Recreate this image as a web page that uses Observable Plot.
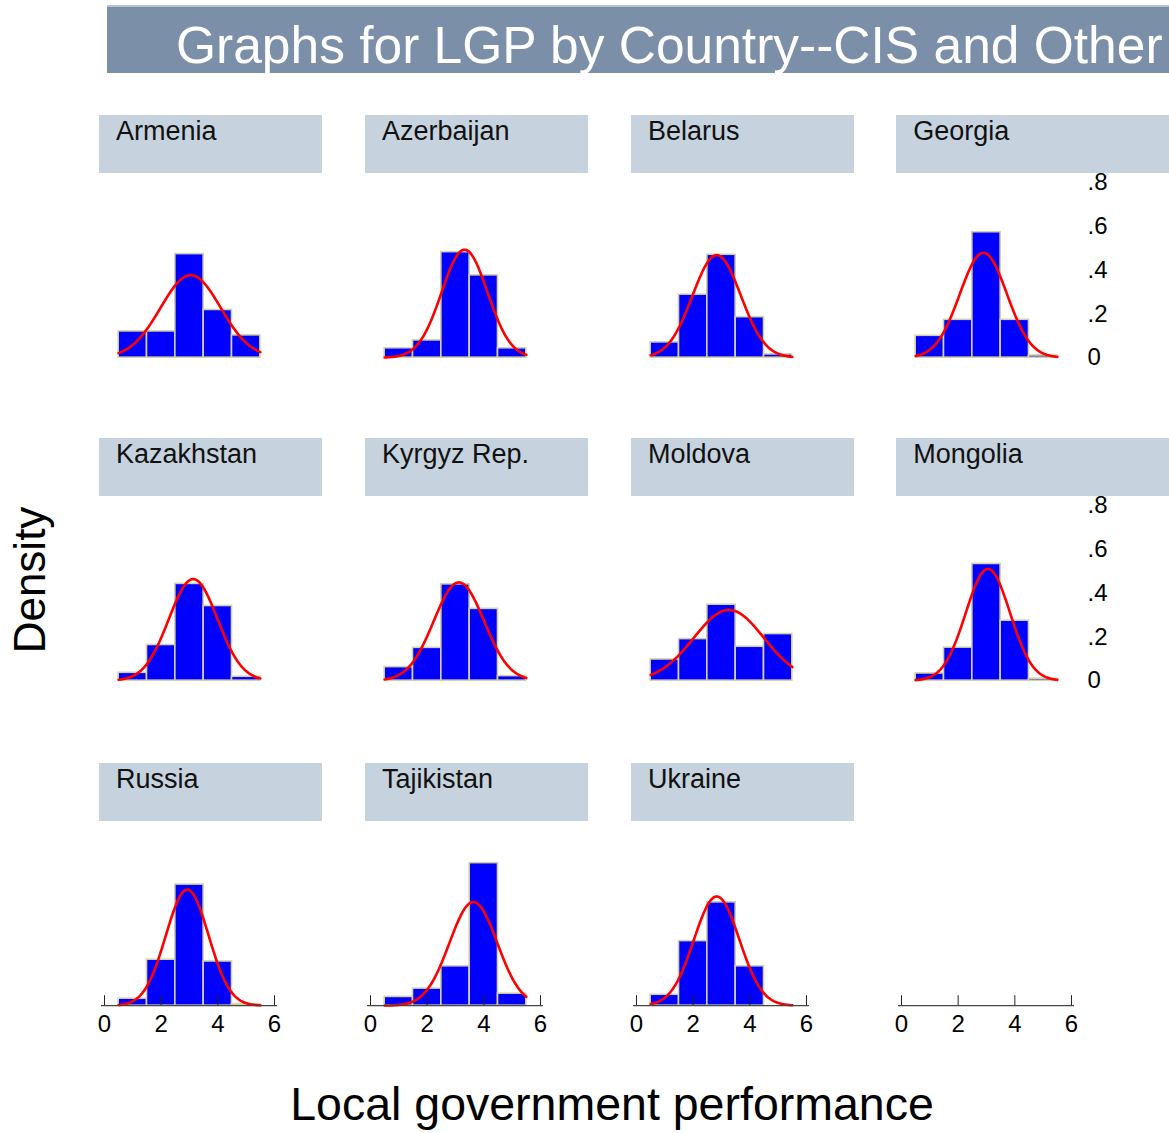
<!DOCTYPE html>
<html>
<head>
<meta charset="utf-8">
<script src="https://cdn.jsdelivr.net/npm/d3@7"></script>
<script src="https://cdn.jsdelivr.net/npm/@observablehq/plot@0.6"></script>
<style>
  html, body { margin: 0; padding: 0; background: #fff; }
  #root { position: relative; width: 1169px; height: 1133px; overflow: hidden; font-family: "Liberation Sans", Arial, sans-serif; }
  .abs { position: absolute; }
  .banner { background: #7b8fa8; border-top: 2px solid #b9c4d1; }
  .title { color: #fff; font-size: 51.5px; line-height: 1; white-space: nowrap; }
  .hdr { background: #c6d3df; }
  .hdrtxt { color: #111; font-size: 27px; line-height: 1; white-space: nowrap; }
  .lab { color: #000; line-height: 1; white-space: nowrap; }
</style>
</head>
<body>
<div id="root"></div>
<script>
// ---- data ----
const titleText = "Graphs for LGP by Country--CIS and Other";
const yLabel = "Density";
const xLabel = "Local government performance";
const countries = ["Armenia","Azerbaijan","Belarus","Georgia","Kazakhstan","Kyrgyz Rep.","Moldova","Mongolia","Russia","Tajikistan","Ukraine"];
const binCenters = [1, 2, 3, 4, 5];
const binWidth = 1;
const densArmenia    = [0.120, 0.120, 0.473, 0.218, 0.102];
const densAzerbaijan = [0.043, 0.079, 0.482, 0.376, 0.043];
const densBelarus    = [0.070, 0.288, 0.470, 0.185, 0.015];
const densGeorgia    = [0.100, 0.173, 0.573, 0.173, 0.010];
const densKazakhstan = [0.036, 0.163, 0.442, 0.341, 0.018];
const densKyrgyz     = [0.062, 0.150, 0.440, 0.328, 0.021];
const densMoldova    = [0.097, 0.190, 0.347, 0.155, 0.213];
const densMongolia   = [0.033, 0.151, 0.533, 0.274, 0.009];
const densRussia     = [0.032, 0.210, 0.553, 0.202, 0.007];
const densTajikistan = [0.040, 0.078, 0.180, 0.651, 0.055];
const densUkraine    = [0.050, 0.295, 0.472, 0.180, 0.000];
const densities = [densArmenia, densAzerbaijan, densBelarus, densGeorgia, densKazakhstan, densKyrgyz, densMoldova, densMongolia, densRussia, densTajikistan, densUkraine];
// normal curve parameters (mean, sd)
const normMean = [3.04, 3.32, 2.83, 2.89, 3.13, 3.12, 3.26, 3.05, 2.92, 3.63, 2.83];
const normSd   = [1.058, 0.809, 0.852, 0.833, 0.86, 0.889, 1.235, 0.782, 0.753, 0.843, 0.80];
const curveRange = [0.5, 5.5];
const xTicks = [0, 2, 4, 6];
const yTicks = [0, 0.2, 0.4, 0.6, 0.8];
const xDomain = [0, 6];
const yDomain = [0, 0.8];

// ---- layout ----
const root = document.getElementById("root");
function addDiv(cls, style, text) {
  const d = document.createElement("div");
  d.className = cls;
  Object.assign(d.style, style);
  if (text != null) d.textContent = text;
  root.appendChild(d);
  return d;
}

addDiv("abs banner", {left: "107px", top: "5px", width: "1080px", height: "66px"});
addDiv("abs title", {left: "176px", top: "20px"}, titleText);

const ncols = 4;
const colX0 = [104, 370, 636, 901.3];      // pixel of x=0 in each column
const rowBase = [356.7, 680.3, 1005.3];     // pixel of y=0 in each row
const pxPerX = 170 / 6;
const pxPerY = 219;
const ML = 10, MR = 52, MT = 6, MB = 46;
const plotW = pxPerX * (xDomain[1] - xDomain[0]);
const plotH = pxPerY * (yDomain[1] - yDomain[0]);

function yFmt(d) { return d === 0 ? "0" : String(d).replace(/^0/, ""); }

function panel(i, c, r) {
  const hasData = i < countries.length;
  const showX = r === 2;
  const showY = c === 3 && r < 2;
  const marks = [];
  if (hasData) {
    const bars = binCenters.map((b, k) => ({x1: b - binWidth / 2, x2: b + binWidth / 2, density: densities[i][k]}))
      .filter(d => d.density > 0);
    const mu = normMean[i], sd = normSd[i];
    const curve = d3.range(curveRange[0], curveRange[1] + 1e-9, 0.02).map(x => ({
      x, y: Math.exp(-0.5 * ((x - mu) / sd) ** 2) / (sd * Math.sqrt(2 * Math.PI))
    }));
    marks.push(Plot.rectY(bars, {x1: "x1", x2: "x2", y: "density", fill: "#0000ff", stroke: "#d6d0a6", strokeWidth: 1.6}));
    marks.push(Plot.line(curve, {x: "x", y: "y", stroke: "#ff0000", strokeWidth: 2.6, curve: "linear"}));
  }
  if (showX) {
    marks.push(Plot.ruleY([0], {stroke: "#444", strokeWidth: 1.2, insetLeft: -3, insetRight: -3}));
    marks.push(Plot.axisX({ticks: xTicks, tickSize: -10, tickPadding: 19, fontSize: 24, stroke: "#222", fill: "#000", tickFormat: d => String(d)}));
  }
  if (showY) {
    marks.push(Plot.axisY({anchor: "right", ticks: yTicks, tickSize: 0, tickPadding: 16, fontSize: 24, fill: "#000", tickFormat: yFmt}));
  }
  const svg = Plot.plot({
    width: ML + plotW + MR,
    height: MT + plotH + MB,
    marginLeft: ML, marginRight: MR, marginTop: MT, marginBottom: MB,
    style: {fontFamily: "'Liberation Sans', Arial, sans-serif", background: "transparent", overflow: "visible"},
    x: {domain: xDomain, axis: null},
    y: {domain: yDomain, axis: null},
    marks
  });
  svg.style.position = "absolute";
  svg.style.left = (colX0[c] - ML) + "px";
  svg.style.top = (rowBase[r] - plotH - MT) + "px";
  root.appendChild(svg);

  if (hasData) {
    const left = colX0[c] - 5;
    const top = rowBase[r] - 242;
    const width = c === 3 ? 1169 - left + 10 : 223;
    addDiv("abs hdr", {left: left + "px", top: top + "px", width: width + "px", height: "58px"});
    addDiv("abs hdrtxt", {left: (left + 17) + "px", top: (top + 3) + "px"}, countries[i]);
  }
}

for (let i = 0; i < 12; i++) {
  panel(i, i % ncols, Math.floor(i / ncols));
}

addDiv("abs lab", {left: "30px", top: "580px", fontSize: "44px", transform: "translate(-50%, -50%) rotate(-90deg)"}, yLabel);
addDiv("abs lab", {left: "612px", top: "1081px", fontSize: "46.5px", transform: "translateX(-50%)"}, xLabel);
</script>
</body>
</html>
